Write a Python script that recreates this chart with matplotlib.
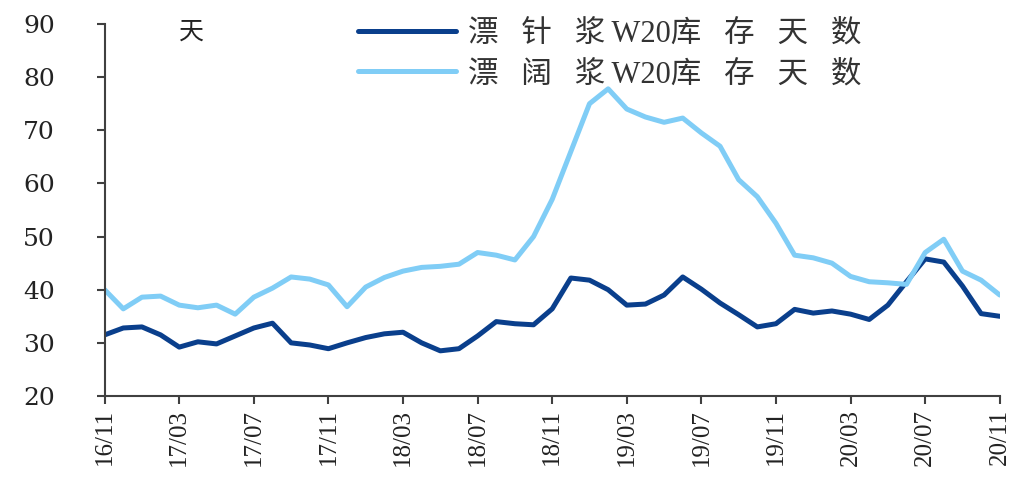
import matplotlib
matplotlib.use("Agg")
import matplotlib.pyplot as plt
import numpy as np

# 月度数据 16/11 - 20/11
months = ["16/11", "16/12", "17/01", "17/02", "17/03", "17/04", "17/05", "17/06",
          "17/07", "17/08", "17/09", "17/10", "17/11", "17/12", "18/01", "18/02",
          "18/03", "18/04", "18/05", "18/06", "18/07", "18/08", "18/09", "18/10",
          "18/11", "18/12", "19/01", "19/02", "19/03", "19/04", "19/05", "19/06",
          "19/07", "19/08", "19/09", "19/10", "19/11", "19/12", "20/01", "20/02",
          "20/03", "20/04", "20/05", "20/06", "20/07", "20/08", "20/09", "20/10",
          "20/11"]

softwood = [31.5, 32.8, 33.0, 31.5, 29.2, 30.2, 29.8, 31.3,
            32.8, 33.7, 30.0, 29.6, 28.9, 30.0, 31.0, 31.7,
            32.0, 30.0, 28.5, 28.9, 31.3, 34.0, 33.6, 33.4,
            36.4, 42.2, 41.8, 40.0, 37.1, 37.3, 39.0, 42.4,
            40.1, 37.5, 35.3, 33.0, 33.6, 36.3, 35.6, 36.0,
            35.4, 34.4, 37.1, 41.5, 45.8, 45.2, 40.7, 35.5,
            35.0]

hardwood = [40.0, 36.4, 38.6, 38.8, 37.1, 36.6, 37.1, 35.4,
            38.6, 40.3, 42.4, 42.0, 40.9, 36.8, 40.5, 42.3,
            43.5, 44.2, 44.4, 44.8, 47.0, 46.5, 45.6, 50.0,
            57.0, 66.0, 75.0, 77.8, 74.0, 72.5, 71.5, 72.3,
            69.5, 67.0, 60.7, 57.5, 52.5, 46.5, 46.0, 45.0,
            42.5, 41.5, 41.3, 41.0, 47.0, 49.5, 43.5, 41.8,
            39.0]

labels = ["漂针浆W20库存天数", "漂阔浆W20库存天数"]

fam = ["Liberation Serif", "Noto Sans CJK SC", "DejaVu Sans"]
plt.rcParams['font.family'] = fam


def spaced(s):
    # 图例文字字距较宽
    out = ""
    for i, ch in enumerate(s):
        out += ch
        if i < len(s) - 1:
            nxt = s[i + 1]
            if ord(ch) > 0x2000 and ord(nxt) > 0x2000:
                out += "\u2002 "
            elif ord(ch) > 0x2000 and ord(nxt) < 0x2000:
                out += "\u2009"
    return out


fig = plt.figure(figsize=(10.16, 4.8), dpi=100)
ax = fig.add_axes([0.103, 0.175, 0.881, 0.775])

x = np.arange(len(months))
ax.plot(x, softwood, color="#0a3f8c", lw=3.6, label=spaced(labels[0]),
        solid_capstyle="round", solid_joinstyle="round")
ax.plot(x, hardwood, color="#80cdf6", lw=3.6, label=spaced(labels[1]),
        solid_capstyle="round", solid_joinstyle="round")

ax.set_xlim(0, len(months) - 1)
ax.set_ylim(20, 90)
ax.set_yticks(range(20, 91, 10))
ax.set_xticks(x[::4])
ax.set_xticklabels(months[::4], rotation=90)

for s in ["top", "right"]:
    ax.spines[s].set_visible(False)
for s in ["left", "bottom"]:
    ax.spines[s].set_color("#404040")
    ax.spines[s].set_linewidth(1.5)
ax.tick_params(axis="both", direction="out", length=6, width=1.5, color="#404040",
               labelcolor="#222222")
ax.tick_params(axis="x", labelsize=18)
ax.tick_params(axis="y", labelsize=18, pad=30)
for t in ax.get_yticklabels():
    t.set_family("DejaVu Serif")

ax.text(0.097, 0.976, "天", transform=ax.transAxes, fontsize=18, va="center", ha="center",
        family=fam, color="#222222")

leg = ax.legend(loc="upper left", bbox_to_anchor=(0.283, 1.012), frameon=False,
                fontsize=22, handlelength=3.2, handletextpad=0.4, labelspacing=0.38,
                borderpad=0, borderaxespad=0)
for t in leg.get_texts():
    t.set_color("#333333")

fig.savefig("out.png", dpi=100)
